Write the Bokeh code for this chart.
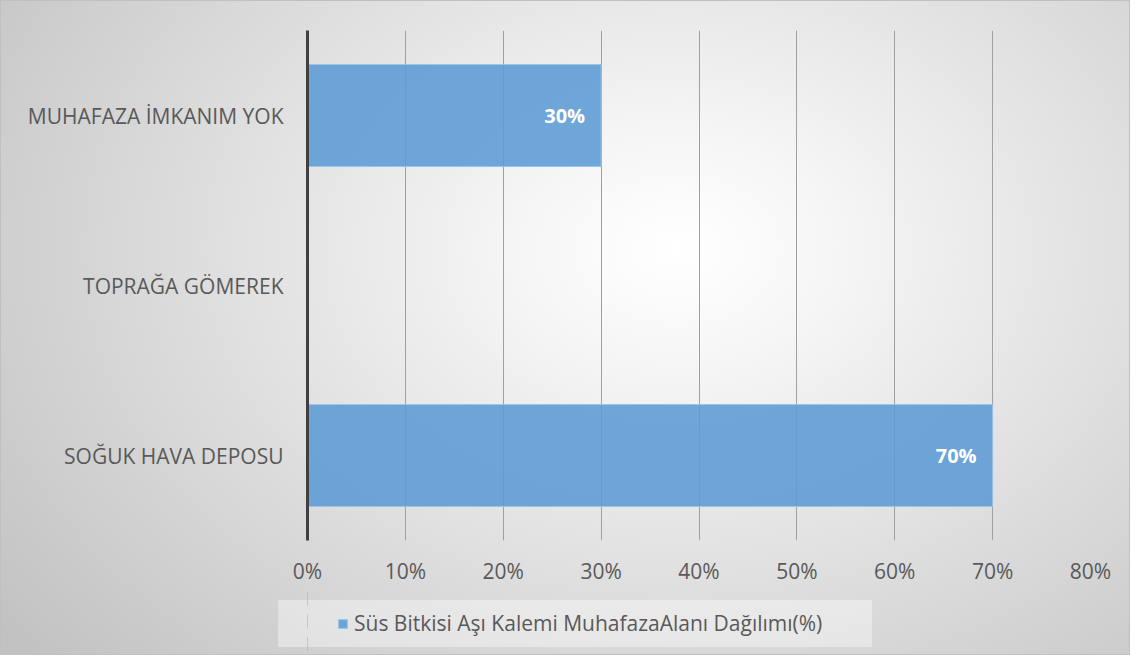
from bokeh.plotting import figure
from bokeh.layouts import column
from bokeh.models import (FactorRange, Range1d, FixedTicker, NumeralTickFormatter,
                          Legend, LegendItem, ColumnDataSource, InlineStyleSheet)
from bokeh.core.properties import value
from bokeh.embed import file_html
from bokeh.resources import INLINE

# ---- data ----
categories = ["SOĞUK HAVA DEPOSU", "TOPRAĞA GÖMEREK", "MUHAFAZA İMKANIM YOK"]
shares = [0.70, 0.0, 0.30]
tick_values = [0.0, 0.1, 0.2, 0.3, 0.4, 0.5, 0.6, 0.7, 0.8]
series_name = "Süs Bitkisi Aşı Kalemi MuhafazaAlanı Dağılımı(%)"
bar_labels = [f"{round(v * 100)}%" if v > 0 else "" for v in shares]

FONT = "Open Sans"
BAR = "#5B9BD5"
BAR_EDGE = "#9DC3E6"
TXT = "#595959"

src = ColumnDataSource(dict(cat=categories, val=shares, lab=bar_labels))

# ---------------- main chart ----------------
p = figure(width=1130, height=580, frame_width=783, frame_height=510,
           y_range=FactorRange(*categories),
           x_range=Range1d(0, 0.8), output_backend="svg", toolbar_location=None,
           min_border_left=307, min_border_right=40, min_border_top=30,
           min_border_bottom=0)
p.border_fill_alpha = 0
p.background_fill_alpha = 0
p.outline_line_color = None

p.hbar(y="cat", right="val", left=0, height=0.6, source=src,
       fill_color=BAR, fill_alpha=0.88, line_color=BAR_EDGE, line_width=1)

p.text(x="val", y="cat", text="lab", source=src, text_align="right",
       text_baseline="middle", x_offset=-16, text_color="white",
       text_font=value(FONT), text_font_style="bold", text_font_size="20px")

p.xaxis.ticker = FixedTicker(ticks=tick_values)
p.xaxis.formatter = NumeralTickFormatter(format="0%")
p.xaxis.axis_line_color = None
p.xaxis.major_tick_line_color = None
p.xaxis.minor_tick_line_color = None
p.xaxis.major_label_standoff = 10
p.xaxis.major_label_text_font = FONT
p.xaxis.major_label_text_font_size = "21px"
p.xaxis.major_label_text_color = TXT

p.yaxis.axis_line_color = "#404040"
p.yaxis.axis_line_width = 3
p.yaxis.major_tick_line_color = None
p.yaxis.minor_tick_line_color = None
p.yaxis.major_label_standoff = 18
p.yaxis.major_label_text_font = FONT
p.yaxis.major_label_text_font_size = "21px"
p.yaxis.major_label_text_color = TXT

p.xgrid.ticker = FixedTicker(ticks=tick_values)
p.xgrid.grid_line_color = "#a0a0a0"
p.xgrid.grid_line_width = 1
p.ygrid.grid_line_color = None

# ---------------- legend strip ----------------
lg = figure(width=1130, height=68, y_range=FactorRange(*categories),
            x_range=Range1d(100, 101), output_backend="svg", toolbar_location=None,
            x_axis_location=None, y_axis_location=None,
            min_border_left=0, min_border_right=0, min_border_top=0,
            min_border_bottom=0)
lg.border_fill_alpha = 0
lg.background_fill_alpha = 0
lg.outline_line_color = None
lg.grid.visible = False
# same series, outside this strip's visible range: only its legend swatch shows
key = lg.hbar(y="cat", right="val", left=0, height=0.6, source=src,
              fill_color=BAR, fill_alpha=0.88, line_color=BAR_EDGE, line_width=1)

legend = Legend(items=[LegendItem(label=series_name, renderers=[key])],
                location=(30, 18), padding=0, margin=0,
                glyph_width=11, glyph_height=11, label_height=22,
                label_standoff=6, background_fill_alpha=0, border_line_color=None,
                label_text_font=FONT, label_text_font_size="21px",
                label_text_color=TXT)
lg.add_layout(legend)

layout = column(p, lg, spacing=0)
layout.stylesheets = [InlineStyleSheet(css=""":host {
  background:
    linear-gradient(rgba(255,255,255,0.38), rgba(255,255,255,0.38)) 278px 600px / 594px 47px no-repeat,
    radial-gradient(ellipse 75% 95% at 60% 38%, #ffffff 0%, #f6f6f6 18%, #c2c2c2 100%);
  box-shadow: inset 0 0 0 1px #c0c0c0;
}""")]

open("out.html", "w").write(file_html(layout, INLINE))
